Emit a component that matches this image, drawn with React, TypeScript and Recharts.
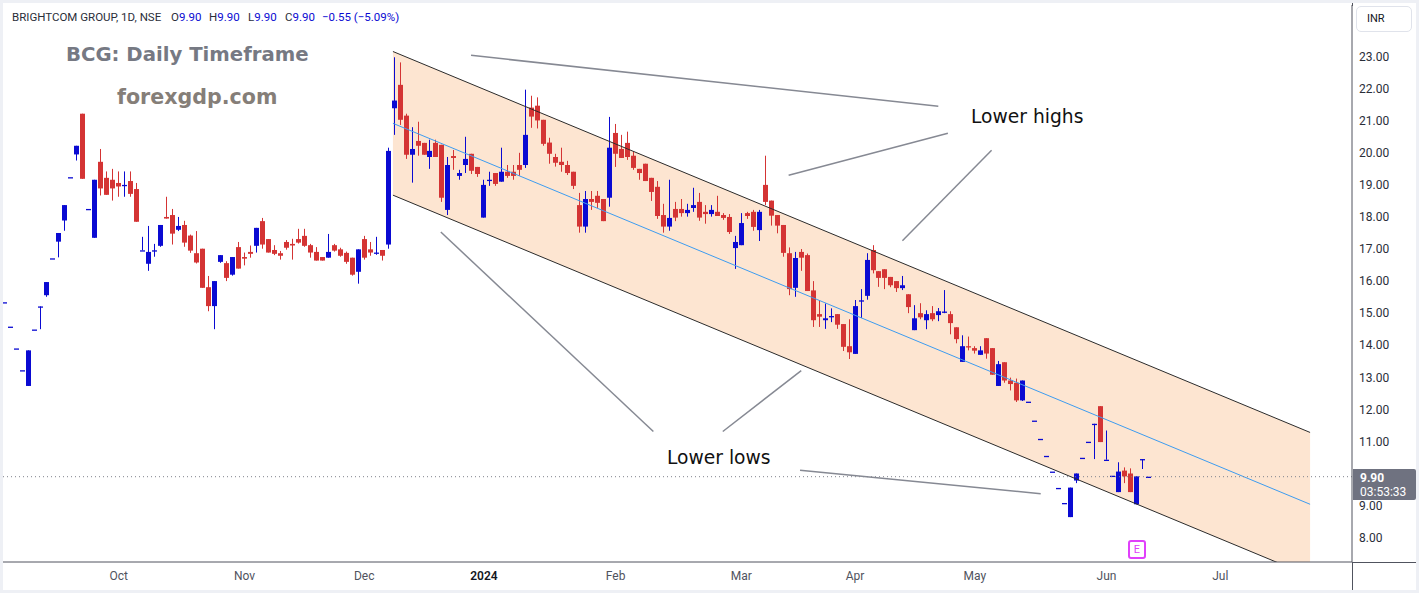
import React from 'react';
import { ComposedChart, Bar, Line, Area, XAxis, YAxis, ReferenceLine } from 'recharts';

// ---- candle data (daily, index = trading day) ----
const opens = [
  15.34, 14.58, 13.9, 13.22, 12.73, 14.49, 15.21, 15.56, 16.71, 17.23,
  17.89, 19.24, 19.95, 21.22, 18.25, 17.35, 19.72, 19.22, 19.16, 19.06,
  18.99, 19.12, 18.87, 16.96, 16.54, 16.96, 17.1, 18.0, 18.06, 17.6,
  17.75, 17.42, 16.87, 17.01, 15.81, 15.22, 16.6, 16.56, 16.2, 17.06,
  16.75, 16.91, 17.1, 17.87, 17.31, 16.97, 16.87, 17.22, 17.16, 17.31,
  17.41, 17.12, 16.91, 16.75, 16.73, 17.12, 16.99, 16.88, 16.73, 16.29,
  17.31, 16.99, 16.89, 16.97, 17.14, 21.39, 22.12, 21.16, 19.94, 20.37,
  20.31, 19.87, 20.31, 20.25, 18.22, 19.9, 19.28, 19.62, 19.97, 19.56,
  17.98, 19.16, 19.37, 19.1, 19.41, 19.41, 19.62, 19.62, 21.41, 21.47,
  21.03, 20.32, 19.87, 19.72, 19.62, 19.41, 18.37, 17.7, 18.56, 18.66,
  18.56, 18.6, 20.62, 20.12, 20.31, 19.91, 19.5, 19.66, 19.22, 18.94,
  18.06, 17.7, 18.25, 18.25, 18.12, 18.28, 18.47, 18.16, 18.09, 18.16,
  18.06, 18.0, 17.03, 17.12, 18.12, 18.16, 17.59, 19.0, 18.51, 18.06,
  17.75, 16.87, 15.79, 16.91, 16.81, 15.71, 14.97, 14.78, 14.91, 14.97,
  14.66, 13.97, 13.73, 15.4, 15.54, 16.97, 16.31, 16.37, 16.13, 16.0,
  15.78, 15.59, 14.47, 15.0, 14.78, 15.0, 14.94, 15.05, 14.97, 14.56,
  13.48, 13.97, 13.91, 13.7, 14.22, 13.91, 12.73, 13.47, 12.9, 12.83,
  12.28, 12.24, 11.65, 11.08, 10.55, 10.06, 9.55, 9.08, 8.64, 9.78,
  10.49, 10.99, 11.55, 12.1, 10.43, 9.93, 9.42, 10.09, 10.0, 9.04,
  10.45, 9.9,
];
const highs = [
  15.34, 14.58, 13.9, 13.22, 13.84, 14.49, 15.21, 15.97, 16.71, 17.5,
  18.37, 19.24, 20.22, 21.22, 18.25, 19.16, 20.12, 19.42, 19.5, 19.42,
  19.42, 19.42, 19.06, 17.38, 17.72, 17.16, 17.75, 18.63, 18.25, 18.0,
  17.88, 17.45, 17.56, 17.01, 16.16, 16.0, 16.81, 16.62, 16.75, 17.22,
  16.89, 17.11, 17.66, 17.97, 17.31, 17.12, 16.94, 17.28, 17.32, 17.63,
  17.63, 17.16, 17.06, 16.75, 17.47, 17.16, 17.04, 16.92, 16.73, 16.99,
  17.41, 17.22, 17.38, 16.97, 20.16, 22.98, 22.82, 21.22, 20.8, 20.97,
  20.31, 20.41, 20.41, 20.25, 19.87, 20.09, 19.47, 20.5, 19.97, 19.56,
  19.16, 19.41, 19.37, 20.16, 19.62, 19.62, 20.0, 21.97, 21.78, 21.73,
  21.03, 20.47, 19.97, 20.16, 19.75, 19.41, 18.75, 18.81, 18.81, 18.81,
  18.56, 21.12, 20.9, 20.56, 20.66, 20.03, 19.5, 19.66, 19.22, 19.12,
  18.41, 19.16, 18.47, 18.56, 18.41, 18.91, 18.75, 18.37, 18.37, 18.66,
  18.12, 18.09, 17.41, 18.12, 18.16, 18.22, 18.22, 19.91, 18.51, 18.06,
  17.75, 17.05, 16.91, 17.0, 16.86, 16.0, 15.41, 15.3, 15.15, 14.97,
  14.66, 14.81, 15.41, 15.75, 16.87, 17.12, 16.31, 16.37, 16.13, 16.0,
  16.16, 15.59, 15.25, 15.31, 15.09, 15.22, 15.16, 15.72, 15.06, 14.56,
  14.31, 14.27, 13.97, 13.97, 14.22, 13.91, 13.51, 13.47, 12.99, 12.96,
  12.9, 12.24, 11.65, 11.08, 10.55, 10.06, 9.55, 9.08, 9.56, 10.0,
  10.49, 10.99, 11.55, 12.1, 11.34, 9.93, 10.35, 10.19, 10.16, 9.91,
  10.45, 9.9,
];
const lows = [
  15.34, 14.58, 13.9, 13.22, 12.73, 14.49, 14.5, 15.51, 16.71, 16.74,
  17.57, 19.24, 19.76, 19.19, 18.25, 17.35, 18.67, 18.69, 18.51, 18.63,
  18.63, 18.63, 17.85, 16.96, 16.32, 16.76, 17.07, 17.95, 17.14, 17.56,
  17.07, 16.88, 16.55, 15.79, 15.06, 14.5, 16.57, 16.0, 16.17, 16.39,
  16.49, 16.73, 16.89, 17.01, 16.89, 16.81, 16.67, 16.98, 16.67, 17.17,
  17.07, 16.73, 16.64, 16.64, 16.73, 16.92, 16.76, 16.54, 16.17, 15.92,
  16.67, 16.79, 16.82, 16.64, 17.01, 20.56, 20.87, 19.81, 19.07, 19.91,
  19.94, 19.5, 19.87, 18.47, 18.06, 19.47, 19.16, 19.37, 19.34, 19.25,
  17.98, 18.97, 18.97, 19.1, 19.22, 19.16, 19.28, 19.53, 20.78, 20.76,
  20.22, 19.66, 19.57, 19.41, 19.31, 18.87, 17.51, 17.51, 18.22, 18.28,
  17.87, 18.32, 19.56, 19.84, 19.78, 19.47, 19.16, 19.12, 18.5, 17.94,
  17.51, 17.57, 17.87, 18.01, 18.01, 18.16, 17.88, 17.79, 18.01, 18.03,
  17.91, 17.47, 16.38, 17.12, 17.94, 17.57, 17.25, 18.37, 17.73, 17.49,
  16.76, 15.56, 15.51, 16.32, 15.69, 14.57, 14.57, 14.51, 14.72, 14.51,
  13.82, 13.57, 13.73, 14.85, 15.42, 16.24, 15.82, 15.75, 15.81, 15.66,
  15.72, 15.0, 14.47, 14.81, 14.5, 14.75, 14.75, 15.0, 14.34, 14.06,
  13.48, 13.84, 13.74, 13.7, 13.58, 13.08, 12.73, 12.83, 12.59, 12.23,
  12.26, 12.24, 11.65, 11.08, 10.55, 10.06, 9.55, 9.08, 8.64, 9.7,
  10.49, 10.99, 10.45, 10.98, 10.43, 9.93, 9.42, 9.7, 9.42, 9.04,
  10.14, 9.9,
];
const closes = [
  15.34, 14.58, 13.9, 13.22, 13.84, 14.49, 15.21, 15.97, 16.71, 17.5,
  18.37, 19.24, 20.22, 19.19, 18.25, 19.16, 18.89, 18.69, 18.89, 18.95,
  19.0, 18.72, 17.85, 16.96, 16.91, 16.96, 17.75, 17.95, 17.48, 17.72,
  17.2, 16.95, 16.58, 15.79, 15.22, 16.0, 16.81, 16.1, 16.75, 16.39,
  16.7, 16.85, 17.66, 17.14, 16.89, 16.85, 16.79, 17.04, 17.11, 17.2,
  17.1, 16.89, 16.64, 16.64, 16.91, 16.95, 16.79, 16.6, 16.2, 16.99,
  16.73, 16.89, 16.89, 16.79, 20.06, 21.63, 21.03, 19.94, 20.12, 20.22,
  19.94, 20.06, 19.87, 18.6, 19.62, 19.84, 19.37, 19.81, 19.44, 19.34,
  19.0, 19.16, 19.03, 19.41, 19.28, 19.28, 19.47, 20.56, 21.13, 21.01,
  20.28, 19.97, 19.69, 19.62, 19.37, 18.97, 17.7, 18.56, 18.47, 18.44,
  17.87, 20.16, 19.97, 19.84, 19.87, 19.53, 19.37, 19.12, 18.78, 18.03,
  17.7, 17.97, 17.98, 18.12, 18.22, 18.37, 17.98, 18.09, 18.22, 18.03,
  17.97, 17.53, 17.22, 17.81, 18.03, 17.69, 18.16, 18.47, 18.04, 17.73,
  16.88, 15.75, 16.72, 16.73, 15.69, 14.78, 14.89, 14.84, 14.91, 14.64,
  13.95, 13.78, 15.22, 15.4, 16.66, 16.34, 16.1, 16.1, 15.87, 15.78,
  15.87, 15.19, 14.84, 14.87, 14.97, 14.81, 15.06, 15.05, 14.69, 14.19,
  13.97, 13.94, 13.83, 13.84, 13.74, 13.08, 13.41, 12.9, 12.79, 12.28,
  12.9, 12.24, 11.65, 11.08, 10.55, 10.06, 9.55, 9.08, 9.56, 10.0,
  10.49, 10.99, 11.55, 10.98, 10.43, 9.93, 10.06, 9.91, 9.42, 9.91,
  10.45, 9.9,
];

// ---- axis ticks ----
const monthTickIndex = [19, 40, 60, 80, 102, 123, 142, 162, 184, 203];
const monthTickLabels = ['Oct', 'Nov', 'Dec', '2024', 'Feb', 'Mar', 'Apr', 'May', 'Jun', 'Jul'];
const priceTicks = [8, 9, 11, 12, 13, 14, 15, 16, 17, 18, 19, 20, 21, 22, 23];

// ---- channel drawing (index, price) ----
const channelX = [64.8, 218];
const channelUpper = [23.16, 11.28];
const channelLower = [18.68, 6.8];
const channelMid = [20.92, 9.04];

// ---- pointer lines (index, price) ----
const pointerFrom: [number, number][] = [
  [77.85, 23.04], [130.9, 19.3], [149.9, 17.26], [72.8, 17.53], [133.0, 13.21], [132.8, 10.1],
];
const pointerTo: [number, number][] = [
  [155.9, 21.45], [157.5, 20.61], [164.8, 20.08], [108.3, 11.31], [119.9, 11.31], [173.0, 9.37],
];

const lastPrice = 9.9;
const earningsIndex = 189;

const BLUE = '#0a0ad2';
const RED = '#d43434';
const FONT = 'Roboto, "Noto Sans", sans-serif';

const candles = opens.map((o, i) => ({
  x: i,
  o,
  h: highs[i],
  l: lows[i],
  c: closes[i],
  range: [lows[i], highs[i]],
}));

const channelData = channelX.map((x, i) => ({
  x,
  upper: channelUpper[i],
  lower: channelLower[i],
  mid: channelMid[i],
  band: [channelLower[i], channelUpper[i]],
}));

const BODY_W = 5;

const Candle = (props: any) => {
  const { x, y, width, height, payload } = props;
  if (payload == null || x == null || y == null) return null;
  const { o, h, l, c } = payload;
  const span = h - l;
  const k = span > 0 ? height / span : 0;
  const yOf = (v: number) => y + (h - v) * k;
  const color = c >= o ? BLUE : RED;
  const center = x + (width || 0) / 2;
  const left = Math.round(center - BODY_W / 2);
  const cx = left + Math.floor(BODY_W / 2) + 0.5;
  const top = yOf(Math.max(o, c));
  const bot = yOf(Math.min(o, c));
  return (
    <g>
      {span > 0 && (
        <line x1={cx} x2={cx} y1={y} y2={y + height} stroke={color} strokeWidth={1} />
      )}
      <rect x={left} y={top} width={BODY_W} height={Math.max(1.3, bot - top)} fill={color} />
    </g>
  );
};

const MonthTick = (props: any) => {
  const { x, y, payload } = props;
  const idx = monthTickIndex.indexOf(payload.value);
  const label = idx >= 0 ? monthTickLabels[idx] : '';
  const bold = label === '2024';
  return (
    <text
      x={x}
      y={y + 10}
      textAnchor="middle"
      fontFamily={FONT}
      fontSize={12}
      fontWeight={bold ? 600 : 400}
      fill={bold ? '#131722' : '#50535e'}
    >
      {label}
    </text>
  );
};

const frame = '#eef0f5';
const axisColor = '#50535e';
const TITLE_FONT = '"DejaVu Sans", Verdana, sans-serif';

export default function App() {
  return (
    <div
      style={{
        position: 'fixed',
        left: 0,
        top: 0,
        width: 1419,
        height: 593,
        background: '#ffffff',
        overflow: 'hidden',
        fontFamily: FONT,
      }}
    >
      <ComposedChart
        width={1419}
        height={593}
        data={candles}
        margin={{ top: 5, right: 0, bottom: 0, left: 2 }}
      >
        <XAxis
          type="number"
          dataKey="x"
          domain={[-0.5, 225]}
          allowDataOverflow
          ticks={monthTickIndex}
          interval={0}
          tick={<MonthTick />}
          tickLine={false}
          axisLine={{ stroke: axisColor }}
          height={31}
        />
        <YAxis
          orientation="right"
          type="number"
          domain={[7.24, 24.61]}
          allowDataOverflow
          ticks={priceTicks}
          interval={0}
          tickFormatter={(v: number) => v.toFixed(2)}
          tick={{ fill: '#2a2e39', fontSize: 12, fontFamily: FONT }}
          tickLine={false}
          tickMargin={1}
          axisLine={{ stroke: axisColor }}
          width={67}
        />
        <Area
          data={channelData}
          dataKey="band"
          type="linear"
          stroke="none"
          fill="#fde5d1"
          fillOpacity={1}
          isAnimationActive={false}
          dot={false}
          activeDot={false}
        />
        <Line
          data={channelData}
          dataKey="mid"
          type="linear"
          stroke="#3d9cf0"
          strokeWidth={1}
          dot={false}
          activeDot={false}
          isAnimationActive={false}
        />
        <Line
          data={channelData}
          dataKey="upper"
          type="linear"
          stroke="#2b2b2b"
          strokeWidth={1}
          dot={false}
          activeDot={false}
          isAnimationActive={false}
        />
        <Line
          data={channelData}
          dataKey="lower"
          type="linear"
          stroke="#2b2b2b"
          strokeWidth={1}
          dot={false}
          activeDot={false}
          isAnimationActive={false}
        />
        <ReferenceLine y={lastPrice} stroke="#7f828c" strokeDasharray="1 3" ifOverflow="visible" />
        <Bar dataKey="range" barSize={5} shape={<Candle />} isAnimationActive={false} />
        {pointerFrom.map((p, i) => (
          <ReferenceLine
            key={i}
            segment={[
              { x: p[0], y: p[1] },
              { x: pointerTo[i][0], y: pointerTo[i][1] },
            ]}
            stroke="#868993"
            strokeWidth={1.5}
            ifOverflow="visible"
          />
        ))}
      </ComposedChart>

      {/* frame */}
      <div style={{ position: 'absolute', left: 0, top: 0, width: 1419, height: 3, background: frame }} />
      <div style={{ position: 'absolute', left: 0, top: 590, width: 1419, height: 3, background: frame }} />
      <div style={{ position: 'absolute', left: 0, top: 0, width: 3, height: 593, background: frame }} />
      <div style={{ position: 'absolute', left: 1416, top: 0, width: 3, height: 593, background: frame }} />
      <div style={{ position: 'absolute', left: 1352, top: 562, width: 64, height: 1, background: axisColor }} />
      <div style={{ position: 'absolute', left: 1352, top: 562, width: 1, height: 28, background: axisColor }} />
      <div style={{ position: 'absolute', left: 1352, top: 3, width: 1, height: 3, background: axisColor }} />

      {/* legend */}
      <div style={{ position: 'absolute', left: 12, top: 10, fontSize: 11.5, color: '#2a2e39', whiteSpace: 'nowrap', lineHeight: '14px' }}>
        BRIGHTCOM GROUP, 1D, NSE
      </div>
      {[
        ['O', '9.90', 171],
        ['H', '9.90', 209],
        ['L', '9.90', 248],
        ['C', '9.90', 285],
      ].map(([k, v, left]) => (
        <div key={k as string} style={{ position: 'absolute', left: left as number, top: 10, fontSize: 11.5, lineHeight: '14px', whiteSpace: 'nowrap' }}>
          <span style={{ color: '#2a2e39' }}>{k}</span>
          <span style={{ color: BLUE }}>{v}</span>
        </div>
      ))}
      <div style={{ position: 'absolute', left: 322, top: 10, fontSize: 11.5, lineHeight: '14px', color: BLUE, whiteSpace: 'nowrap' }}>
        −0.55 (−5.09%)
      </div>

      {/* watermark titles */}
      <div style={{ position: 'absolute', left: 66, top: 40, fontSize: 19.7, fontWeight: 700, color: '#767983', fontFamily: TITLE_FONT, whiteSpace: 'nowrap', lineHeight: '30px' }}>
        BCG: Daily Timeframe
      </div>
      <div style={{ position: 'absolute', left: 117, top: 82, fontSize: 20.6, fontWeight: 700, color: '#857e78', fontFamily: TITLE_FONT, whiteSpace: 'nowrap', lineHeight: '30px' }}>
        forexgdp.com
      </div>

      {/* annotations */}
      <div style={{ position: 'absolute', left: 971, top: 103, fontSize: 18.7, color: '#111', fontFamily: TITLE_FONT, whiteSpace: 'nowrap', lineHeight: '28px' }}>
        Lower highs
      </div>
      <div style={{ position: 'absolute', left: 667, top: 444, fontSize: 18.7, color: '#111', fontFamily: TITLE_FONT, whiteSpace: 'nowrap', lineHeight: '28px' }}>
        Lower lows
      </div>

      {/* currency box */}
      <div style={{ position: 'absolute', left: 1356, top: 6, width: 44, height: 24, border: '1px solid #e0e3eb', borderRadius: 5, fontSize: 11, color: '#131722', lineHeight: '24px', paddingLeft: 10, boxSizing: 'content-box' }}>
        INR
      </div>

      {/* last price box */}
      <div style={{ position: 'absolute', left: 1353, top: 469, width: 63, height: 31, background: '#6f7280', borderRadius: '0 2px 2px 0', color: '#fff' }}>
        <div style={{ position: 'absolute', left: 7, top: 2, fontSize: 12, fontWeight: 700, lineHeight: '14px' }}>9.90</div>
        <div style={{ position: 'absolute', left: 7, top: 16, fontSize: 12, lineHeight: '14px' }}>03:53:33</div>
      </div>

      {/* earnings marker */}
      <div style={{ position: 'absolute', left: 1128 + (earningsIndex - 189) * 6, top: 540, width: 14, height: 15, border: '2px solid #e040fb', borderRadius: 3, color: '#e040fb', fontSize: 11, lineHeight: '15px', textAlign: 'center' }}>
        E
      </div>
    </div>
  );
}
